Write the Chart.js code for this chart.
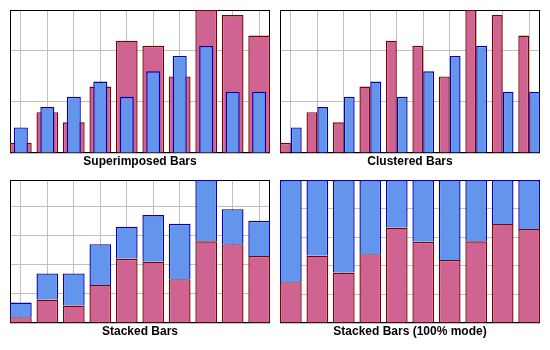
<!DOCTYPE html>
<html>
<head>
<meta charset="utf-8">
<script src="https://cdn.jsdelivr.net/npm/chart.js@4.4.0/dist/chart.umd.min.js"></script>
<style>
  body { margin: 0; background: #fff; }
  canvas { position: absolute; }
</style>
</head>
<body>
<canvas id="superimposed" width="262" height="166" style="left:9px;top:9px"></canvas>
<canvas id="clustered" width="262" height="166" style="left:279px;top:9px"></canvas>
<canvas id="stacked" width="262" height="166" style="left:9px;top:179px"></canvas>
<canvas id="percent" width="262" height="166" style="left:279px;top:179px"></canvas>
<script>
// data
const categories = [0, 1, 2, 3, 4, 5, 6, 7, 8, 9];
const series1 = [2, 8, 6, 13, 22, 21, 15, 28, 27, 23];
const series2 = [5, 9, 11, 14, 11, 16, 19, 21, 12, 12];
const valueTicks = [0, 10, 20, 30, 40];
const percentTicks = [0, 20, 40, 60, 80, 100];

// colours
const RED_FILL = '#cf6492';
const RED_LINE = '#800000';
const BLUE_FILL = '#6495ed';
const BLUE_LINE = '#0000b4';

// half a bar, in category units, so the outer bars touch the frame
const EDGE = 0.41;

// black frame round the plot area
const plotBorder = {
  id: 'plotBorder',
  beforeDatasetsDraw(chart) {
    const { ctx, chartArea: a } = chart;
    ctx.save();
    ctx.strokeStyle = '#000';
    ctx.lineWidth = 1;
    ctx.strokeRect(a.left + 0.5, a.top + 0.5, a.right - a.left - 1, a.bottom - a.top - 1);
    ctx.restore();
  }
};

function barSet(values, fill, line, extra) {
  return Object.assign({
    data: values,
    backgroundColor: fill,
    borderColor: line,
    borderWidth: 1.4,
    categoryPercentage: 0.82,
    barPercentage: 1
  }, extra || {});
}

function makeOptions(title, yMax, ticks, stacked) {
  return {
    responsive: false,
    animation: false,
    layout: { padding: { left: 1, right: 1, top: 1, bottom: 2.6 } },
    plugins: {
      legend: { display: false },
      tooltip: { enabled: false },
      title: {
        display: true,
        text: title,
        position: 'bottom',
        color: '#000',
        font: { family: 'Arial, "Liberation Sans", sans-serif', size: 12, weight: 'bold' },
        padding: { top: 1, bottom: 4 }
      }
    },
    scales: {
      x: {
        type: 'linear',
        min: -EDGE,
        max: categories.length - 1 + EDGE,
        offset: false,
        stacked: stacked,
        grid: { color: '#c0c0c0', drawTicks: false, offset: false },
        border: { display: false },
        ticks: { display: false },
        afterBuildTicks: s => { s.ticks = categories.map(c => ({ value: c })); }
      },
      y: {
        min: 0,
        max: yMax,
        stacked: stacked,
        grid: { color: '#c0c0c0', drawTicks: false },
        border: { display: false },
        ticks: { display: false },
        afterBuildTicks: s => { s.ticks = ticks.filter(t => t <= yMax).map(t => ({ value: t })); }
      }
    }
  };
}

const maxSingle = Math.max(...series1, ...series2);
const totals = series1.map((v, i) => v + series2[i]);
const maxTotal = Math.max(...totals);
const pct1 = series1.map((v, i) => v / totals[i] * 100);
const pct2 = series2.map((v, i) => v / totals[i] * 100);

// Superimposed: narrow blue bar drawn over the wide red one
new Chart(document.getElementById('superimposed'), {
  type: 'bar',
  data: {
    labels: categories,
    datasets: [
      barSet(series1, RED_FILL, RED_LINE, { grouped: false, order: 1 }),
      barSet(series2, BLUE_FILL, BLUE_LINE, { grouped: false, order: 0, categoryPercentage: 0.53 })
    ]
  },
  options: makeOptions('Superimposed Bars', maxSingle, valueTicks, false),
  plugins: [plotBorder]
});

// Clustered
new Chart(document.getElementById('clustered'), {
  type: 'bar',
  data: {
    labels: categories,
    datasets: [
      barSet(series1, RED_FILL, RED_LINE),
      barSet(series2, BLUE_FILL, BLUE_LINE)
    ]
  },
  options: makeOptions('Clustered Bars', maxSingle, valueTicks, false),
  plugins: [plotBorder]
});

// Stacked
new Chart(document.getElementById('stacked'), {
  type: 'bar',
  data: {
    labels: categories,
    datasets: [
      barSet(series1, RED_FILL, RED_LINE),
      barSet(series2, BLUE_FILL, BLUE_LINE)
    ]
  },
  options: makeOptions('Stacked Bars', maxTotal, valueTicks, true),
  plugins: [plotBorder]
});

// Stacked 100%
new Chart(document.getElementById('percent'), {
  type: 'bar',
  data: {
    labels: categories,
    datasets: [
      barSet(pct1, RED_FILL, RED_LINE),
      barSet(pct2, BLUE_FILL, BLUE_LINE)
    ]
  },
  options: makeOptions('Stacked Bars (100% mode)', 100, percentTicks, true),
  plugins: [plotBorder]
});
</script>
</body>
</html>
